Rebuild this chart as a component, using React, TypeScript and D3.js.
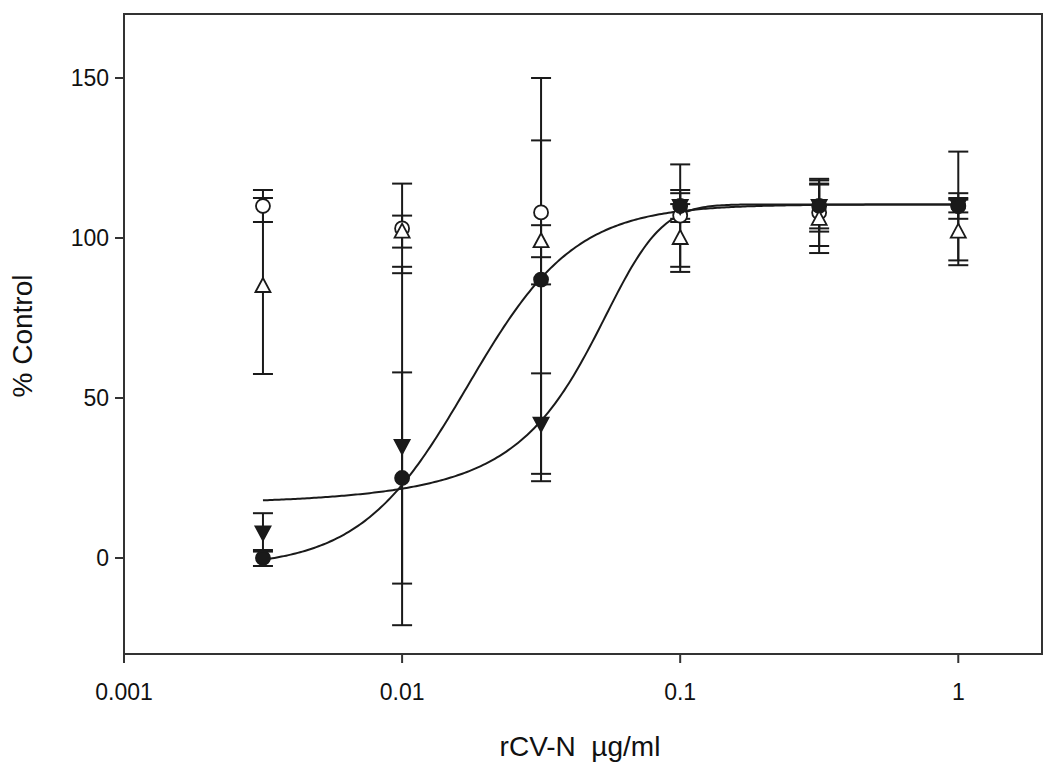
import React from "react";
import * as d3 from "d3";

// concentrations (µg/ml)
const conc = [0.00316, 0.01, 0.0316, 0.1, 0.316, 1];

// series values (% control) and error half-widths
const filledCircleY = [0, 25, 87, 110, 110, 110];
const filledCircleErr = [2.5, 33, 63, 5, 7, 4];
const openCircleY = [110, 103, 108, 107, 108, 110];
const openCircleErr = [5, 14, 22.5, 16, 10.5, 17];
const filledTriY = [8, 35, 42, 110, 110, 110];
const filledTriErr = [6, 56, 15.7, 4, 8, 2];
const openTriY = [85, 102, 99, 100, 106, 102];
const openTriErr = [27.5, 5, 5, 10.6, 10.7, 10.5];

// fitted curve parameters
const fitA = { bottom: -3, top: 110.5, ec50: 0.0172, hill: 2.25 }; // filled circles
const fitB = { y0: 10, a: 100.5, x0: 0.0435, b: 0.0165 }; // filled triangles

const xTicks = [0.001, 0.01, 0.1, 1];
const xTickLabels = ["0.001", "0.01", "0.1", "1"];
const yTicks = [0, 50, 100, 150];

const W = 1050;
const H = 774;
const M = { left: 124, right: 1042, top: 14, bottom: 654 };

type Series = { y: number[]; err: number[]; shape: "circle" | "triDown" | "triUp"; filled: boolean };

// drawing order: open circle, filled triangle, filled circle, open triangle
const series: Series[] = [
  { y: openCircleY, err: openCircleErr, shape: "circle", filled: false },
  { y: filledTriY, err: filledTriErr, shape: "triDown", filled: true },
  { y: filledCircleY, err: filledCircleErr, shape: "circle", filled: true },
  { y: openTriY, err: openTriErr, shape: "triUp", filled: false },
];

export default function App() {
  const x = d3.scaleLog().domain([0.001, 2]).range([M.left, M.right]);
  const y = d3.scaleLinear().domain([-30, 170]).range([M.bottom, M.top]);

  const lo = Math.log10(conc[0]);
  const hi = Math.log10(conc[conc.length - 1]);
  const samples = d3.range(0, 301).map((i) => Math.pow(10, lo + (i / 300) * (hi - lo)));
  const curveA = samples.map((c) => [c, fitA.bottom + (fitA.top - fitA.bottom) / (1 + Math.pow(fitA.ec50 / c, fitA.hill))] as [number, number]);
  const curveB = samples.map((c) => [c, fitB.y0 + fitB.a / (1 + Math.exp(-(c - fitB.x0) / fitB.b))] as [number, number]);
  const line = d3.line<[number, number]>().x((d) => x(d[0])).y((d) => y(d[1]));

  const ink = "#1a1a1a";
  const font = "Liberation Sans, Arial, sans-serif";
  const cap = 10;

  const marker = (s: Series, cx: number, cy: number, key: string) => {
    const fill = s.filled ? ink : "#fff";
    if (s.shape === "circle") return <circle key={key} cx={cx} cy={cy} r={7} fill={fill} stroke={ink} strokeWidth={1.8} />;
    const hw = 7.5;
    const hh = 7;
    const pts =
      s.shape === "triUp"
        ? `${cx},${cy - hh - 1} ${cx - hw},${cy + hh - 1} ${cx + hw},${cy + hh - 1}`
        : `${cx},${cy + hh + 1} ${cx - hw},${cy - hh + 1} ${cx + hw},${cy - hh + 1}`;
    return <polygon key={key} points={pts} fill={fill} stroke={ink} strokeWidth={1.8} />;
  };

  return (
    <svg width={W} height={H} style={{ position: "absolute", left: 0, top: 0, background: "#fff" }}>
      <rect x={0} y={0} width={W} height={H} fill="#fff" />
      {series.map((s, si) =>
        conc.map((c, i) => {
          const cx = x(c);
          const yh = y(s.y[i] + s.err[i]);
          const yl = y(s.y[i] - s.err[i]);
          return (
            <g key={`e${si}-${i}`} stroke={ink} strokeWidth={2}>
              <line x1={cx} x2={cx} y1={yh} y2={yl} />
              <line x1={cx - cap} x2={cx + cap} y1={yh} y2={yh} />
              <line x1={cx - cap} x2={cx + cap} y1={yl} y2={yl} />
            </g>
          );
        })
      )}
      <path d={line(curveA) || ""} fill="none" stroke={ink} strokeWidth={2} />
      <path d={line(curveB) || ""} fill="none" stroke={ink} strokeWidth={2} />
      {series.map((s, si) => conc.map((c, i) => marker(s, x(c), y(s.y[i]), `m${si}-${i}`)))}
      <rect x={M.left} y={M.top} width={M.right - M.left} height={M.bottom - M.top} fill="none" stroke="#333" strokeWidth={2} />
      {xTicks.map((t, i) => (
        <g key={`xt${i}`}>
          <line x1={x(t)} x2={x(t)} y1={M.bottom} y2={M.bottom + 9} stroke="#333" strokeWidth={2} />
          <text x={x(t)} y={700} textAnchor="middle" fontFamily={font} fontSize={23} fill="#111">
            {xTickLabels[i]}
          </text>
        </g>
      ))}
      {yTicks.map((t, i) => (
        <g key={`yt${i}`}>
          <line x1={M.left - 9} x2={M.left} y1={y(t)} y2={y(t)} stroke="#333" strokeWidth={2} />
          <text x={109} y={y(t) + 8} textAnchor="end" fontFamily={font} fontSize={23} fill="#111">
            {t}
          </text>
        </g>
      ))}
      <text x={580} y={756} textAnchor="middle" fontFamily={font} fontSize={28} fill="#111" style={{ whiteSpace: "pre" }}>
        {"rCV-N  µg/ml"}
      </text>
      <text
        transform={`translate(32, ${(M.top + M.bottom) / 2 + 2}) rotate(-90)`}
        textAnchor="middle"
        fontFamily={font}
        fontSize={28}
        fill="#111"
      >
        % Control
      </text>
    </svg>
  );
}
